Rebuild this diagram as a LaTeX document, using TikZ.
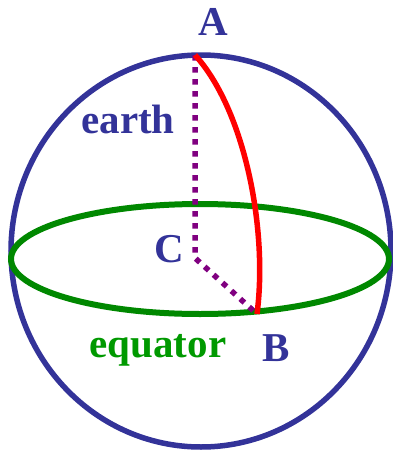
\documentclass[tikz,border=0pt]{standalone}
\usepackage{fontspec}
\setmainfont{Liberation Serif}
\usepackage{tikz}
\usepackage{tkz-euclide}

\definecolor{earthblue}{RGB}{51,51,153}
\definecolor{eqgreen}{RGB}{0,136,0}
\definecolor{eqtext}{RGB}{0,153,0}
\definecolor{radpurple}{RGB}{128,0,128}

\tikzset{lbl/.style={font=\fontsize{41}{48}\selectfont\bfseries, anchor=base, inner sep=0pt}}

\begin{document}
\begin{tikzpicture}[x=1pt,y=1pt]
                \useasboundingbox (0,0) rectangle (393,-453);
                \tkzDefPoints{195/-55/A, 195/-258/C, 257/-314/B, 201/-251/O, 200/-259/E}
                \draw[earthblue, line width=5.5pt] (O) ellipse [x radius=190, y radius=196];
                \draw[eqgreen, line width=6pt] (E) ellipse [x radius=189, y radius=55];
                \draw[radpurple, line width=5.5pt, dash pattern=on 5.5pt off 6.5pt] (A) -- (C) -- (B);
                %great circle arc from A to B
                \draw[red, line width=5.5pt] (A) .. controls (245,-110) and (268,-230) .. (B);
                \node[lbl, earthblue] (labA) at (213,-35) {A};
                \node[lbl, earthblue] (labC) at (169,-262) {C};
                \node[lbl, earthblue] (labB) at (276,-361) {B};
                \node[lbl, earthblue] (earth) at (128,-133) {earth};
                \node[lbl, eqtext] (equator) at (158,-357) {equator};
            \end{tikzpicture}
\end{document}
